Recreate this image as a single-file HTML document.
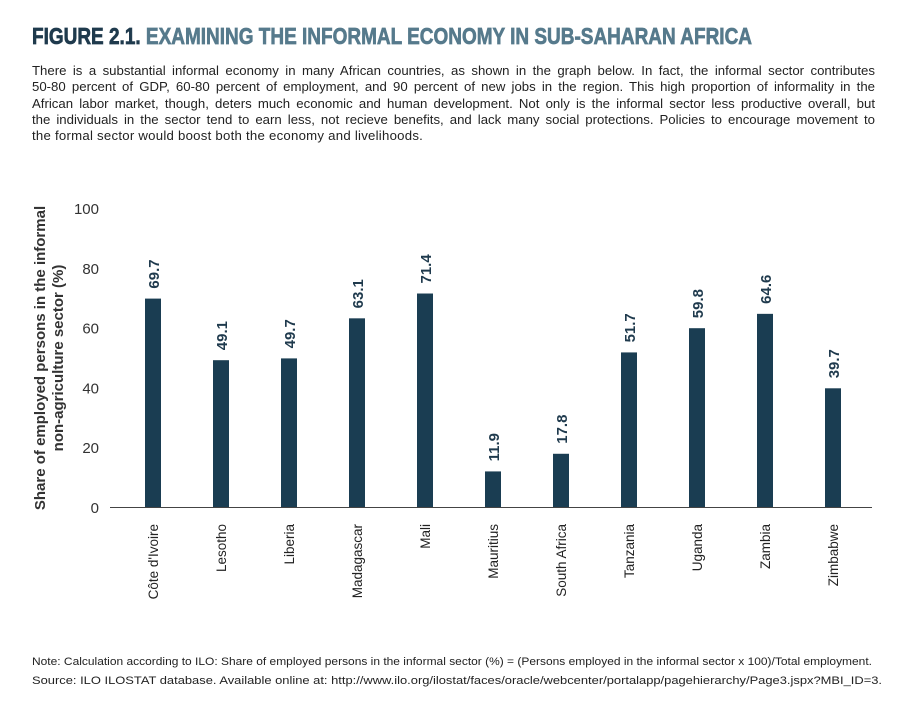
<!DOCTYPE html>
<html><head><meta charset="utf-8"><style>
body{margin:0;width:898px;height:727px;background:#fff;font-family:"Liberation Sans",sans-serif;overflow:hidden;position:relative}
#intro{position:absolute;left:32px;top:63px;width:843px;font-size:13.2px;line-height:16.3px;color:#222}
#intro div{white-space:nowrap;text-align:justify;text-align-last:justify}
#intro div.last{text-align-last:left}
</style></head><body>
<svg width="898" height="727" style="position:absolute;left:0;top:0">
<text x="32" y="44" textLength="720" lengthAdjust="spacingAndGlyphs" font-family="Liberation Sans, sans-serif" font-weight="bold" font-size="23" fill="#567a8c" stroke="#567a8c" stroke-width="0.7"><tspan fill="#1f3a4d" stroke="#1f3a4d">FIGURE 2.1.</tspan> EXAMINING THE INFORMAL ECONOMY IN SUB-SAHARAN AFRICA</text>
<text x="32" y="665" textLength="840" lengthAdjust="spacingAndGlyphs" font-family="Liberation Sans, sans-serif" font-size="11.3" fill="#222">Note: Calculation according to ILO: Share of employed persons in the informal sector (%) = (Persons employed in the informal sector x 100)/Total employment.</text>
<text x="32" y="684" textLength="850" lengthAdjust="spacingAndGlyphs" font-family="Liberation Sans, sans-serif" font-size="11.3" fill="#222">Source: ILO ILOSTAT database. Available online at: http://www.ilo.org/ilostat/faces/oracle/webcenter/portalapp/pagehierarchy/Page3.jspx?MBI_ID=3.</text>
</svg>
<div id="intro">
<div>There is a substantial informal economy in many African countries, as shown in the graph below. In fact, the informal sector contributes</div>
<div>50-80 percent of GDP, 60-80 percent of employment, and 90 percent of new jobs in the region. This high proportion of informality in the</div>
<div>African labor market, though, deters much economic and human development. Not only is the informal sector less productive overall, but</div>
<div>the individuals in the sector tend to earn less, not recieve benefits, and lack many social protections. Policies to encourage movement to</div>
<div class="last" style="letter-spacing:0.25px">the formal sector would boost both the economy and livelihoods.</div>
</div>
<svg id="chart" width="898" height="727" style="position:absolute;left:0;top:0"></svg>
<script>
const categories=["Côte d'Ivoire","Lesotho","Liberia","Madagascar","Mali","Mauritius","South Africa","Tanzania","Uganda","Zambia","Zimbabwe"];
const values=[69.7,49.1,49.7,63.1,71.4,11.9,17.8,51.7,59.8,64.6,39.7];
const yTicks=[0,20,40,60,80,100];
const NS="http://www.w3.org/2000/svg";
const svg=document.getElementById('chart');
const y0=507,yPer=2.99,x0=153,step=68,bw=16;
const y=v=>y0-v*yPer;
const x=i=>x0+i*step;
function mk(t,a){const e=document.createElementNS(NS,t);for(const k in a)e.setAttribute(k,a[k]);svg.appendChild(e);return e;}
yTicks.forEach(t=>{
 const e=mk('text',{x:99,y:y(t)+6,'text-anchor':'end','font-size':'15','fill':'#333','font-family':'Liberation Sans, sans-serif'});
 e.textContent=t;
 
 
});
const ax=mk('line',{x1:110,x2:872,y1:y0+0.5,y2:y0+0.5,stroke:'#444','stroke-width':1});


values.forEach((v,i)=>{
 const r=mk('rect',{x:x(i)-bw/2,y:y(v),width:bw,height:y0-y(v),fill:'#1a3d52'});
 
 
 const lx=x(i)+6,ly=y(v)-10;
 const t=mk('text',{x:lx,y:ly,transform:`rotate(-90 ${lx} ${ly})`,'font-size':'15','font-weight':'bold','fill':'#1f3a4d','font-family':'Liberation Sans, sans-serif'});
 t.textContent=v.toFixed(1);
 
 
 const cx=x(i)+5,cy=524;
 const c=mk('text',{x:cx,y:cy,transform:`rotate(-90 ${cx} ${cy})`,'text-anchor':'end','font-size':'13.5','fill':'#222','font-family':'Liberation Sans, sans-serif'});
 c.textContent=categories[i];
 
 
});
[["Share of employed persons in the informal",45],["non-agriculture sector (%)",63]].forEach(([s,xx])=>{
 const cy=358;
 const t=mk('text',{x:xx,y:cy,transform:`rotate(-90 ${xx} ${cy})`,'text-anchor':'middle','font-size':'15','font-weight':'bold','fill':'#333','font-family':'Liberation Sans, sans-serif'});
 t.textContent=s;
 
 
});
</script>
</body></html>
